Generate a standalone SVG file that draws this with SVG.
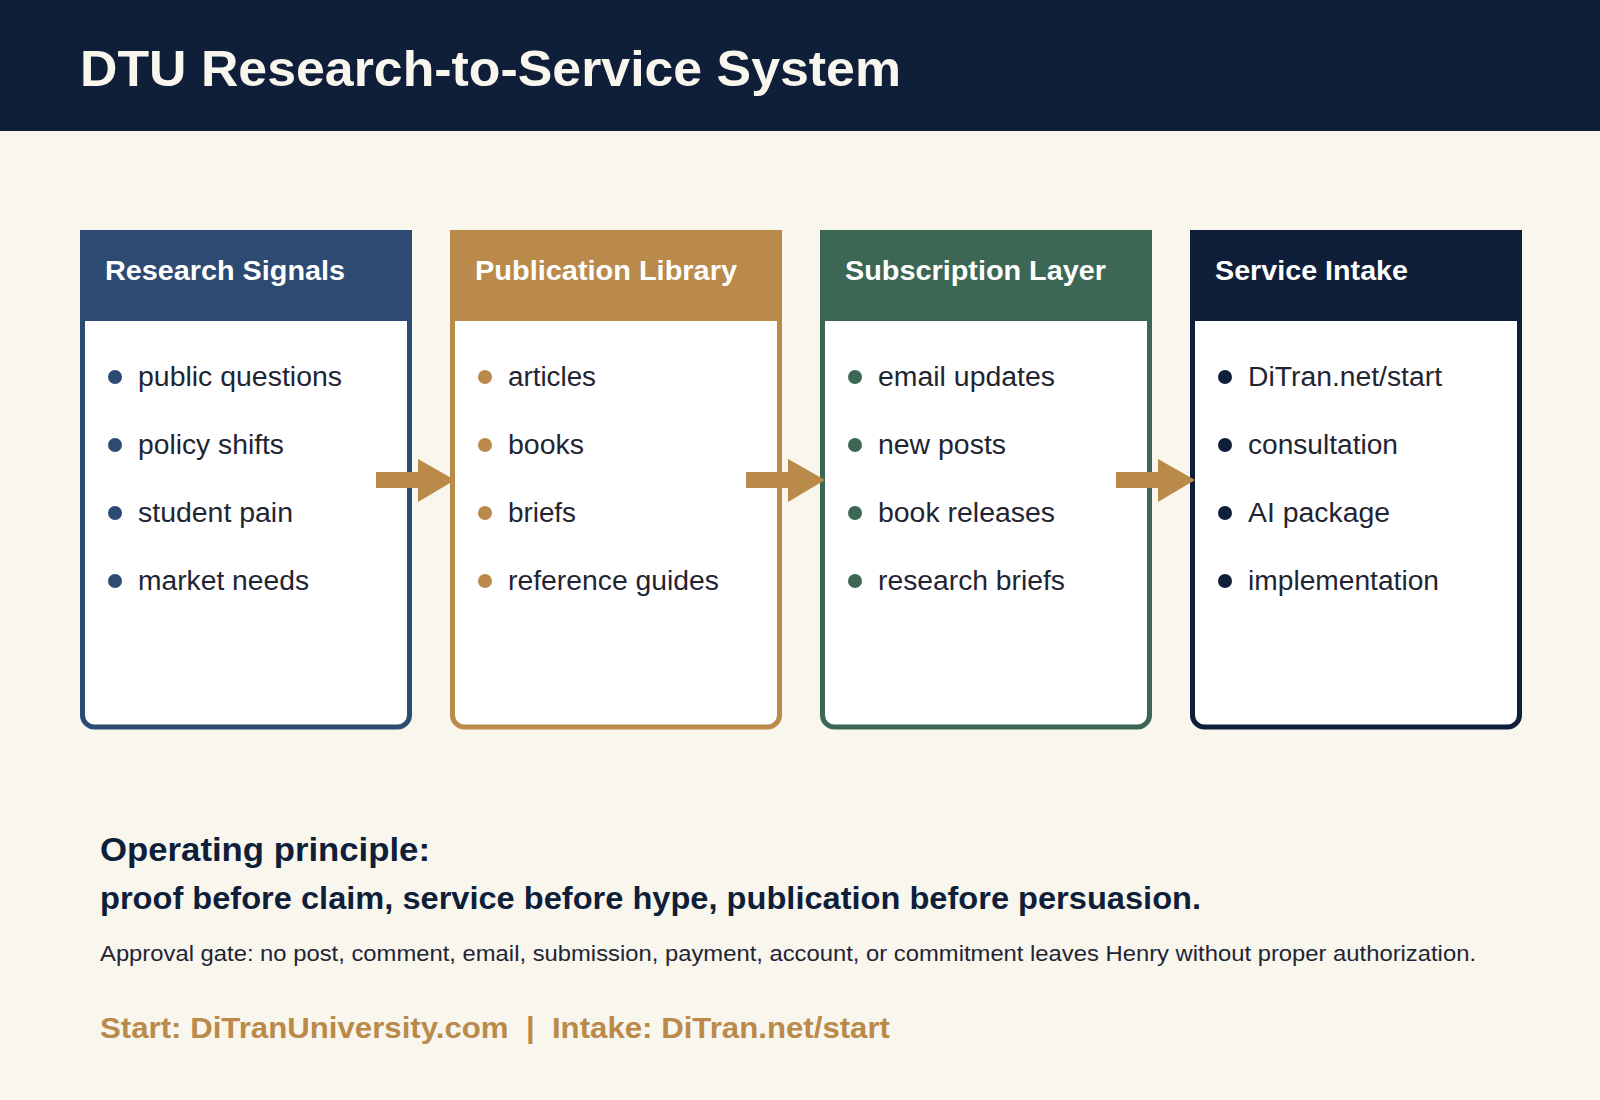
<svg xmlns="http://www.w3.org/2000/svg" width="1600" height="1100" viewBox="0 0 1600 1100">
<defs>
<style>
text{font-family:"Liberation Sans",Arial,sans-serif}
.hd{font-size:28px;font-weight:bold;fill:#fff}
.it{font-size:27px;fill:#1f2533}
.card{fill:#fff;stroke-width:5}
</style>
</defs>
<rect width="1600" height="1100" fill="#f9f6ee"/>
<rect width="1600" height="131" fill="#0f1f3a"/>
<text x="80" y="86" font-size="50" font-weight="bold" fill="#f9f6ee" textLength="821" lengthAdjust="spacingAndGlyphs">DTU Research-to-Service System</text>
<g id="n1">
<path class="card" stroke="#2c4a72" d="M82.5,232.5 H409.5 V715 a12,12 0 0 1 -12,12 H94.5 a12,12 0 0 1 -12,-12 Z"/>
<rect x="80" y="230" width="332" height="91" fill="#2c4a72"/>
<text class="hd" x="105" y="280" textLength="240" lengthAdjust="spacingAndGlyphs">Research Signals</text>
<g fill="#2c4a72"><circle cx="115" cy="377" r="7"/><circle cx="115" cy="445" r="7"/><circle cx="115" cy="513" r="7"/><circle cx="115" cy="581" r="7"/></g>
<text class="it" x="138" y="386" textLength="204" lengthAdjust="spacingAndGlyphs">public questions</text><text class="it" x="138" y="454" textLength="146" lengthAdjust="spacingAndGlyphs">policy shifts</text><text class="it" x="138" y="522" textLength="155" lengthAdjust="spacingAndGlyphs">student pain</text><text class="it" x="138" y="590" textLength="171" lengthAdjust="spacingAndGlyphs">market needs</text>
</g>
<g id="n2">
<path class="card" stroke="#b98a4a" d="M452.5,232.5 H779.5 V715 a12,12 0 0 1 -12,12 H464.5 a12,12 0 0 1 -12,-12 Z"/>
<rect x="450" y="230" width="332" height="91" fill="#b98a4a"/>
<text class="hd" x="475" y="280" textLength="262" lengthAdjust="spacingAndGlyphs">Publication Library</text>
<g fill="#b98a4a"><circle cx="485" cy="377" r="7"/><circle cx="485" cy="445" r="7"/><circle cx="485" cy="513" r="7"/><circle cx="485" cy="581" r="7"/></g>
<text class="it" x="508" y="386" textLength="88" lengthAdjust="spacingAndGlyphs">articles</text><text class="it" x="508" y="454" textLength="76" lengthAdjust="spacingAndGlyphs">books</text><text class="it" x="508" y="522" textLength="68" lengthAdjust="spacingAndGlyphs">briefs</text><text class="it" x="508" y="590" textLength="211" lengthAdjust="spacingAndGlyphs">reference guides</text>
</g>
<g id="n3">
<path class="card" stroke="#3d6755" d="M822.5,232.5 H1149.5 V715 a12,12 0 0 1 -12,12 H834.5 a12,12 0 0 1 -12,-12 Z"/>
<rect x="820" y="230" width="332" height="91" fill="#3d6755"/>
<text class="hd" x="845" y="280" textLength="261" lengthAdjust="spacingAndGlyphs">Subscription Layer</text>
<g fill="#3d6755"><circle cx="855" cy="377" r="7"/><circle cx="855" cy="445" r="7"/><circle cx="855" cy="513" r="7"/><circle cx="855" cy="581" r="7"/></g>
<text class="it" x="878" y="386" textLength="177" lengthAdjust="spacingAndGlyphs">email updates</text><text class="it" x="878" y="454" textLength="128" lengthAdjust="spacingAndGlyphs">new posts</text><text class="it" x="878" y="522" textLength="177" lengthAdjust="spacingAndGlyphs">book releases</text><text class="it" x="878" y="590" textLength="187" lengthAdjust="spacingAndGlyphs">research briefs</text>
</g>
<g id="n4">
<path class="card" stroke="#0f1f3a" d="M1192.5,232.5 H1519.5 V715 a12,12 0 0 1 -12,12 H1204.5 a12,12 0 0 1 -12,-12 Z"/>
<rect x="1190" y="230" width="332" height="91" fill="#0f1f3a"/>
<text class="hd" x="1215" y="280" textLength="193" lengthAdjust="spacingAndGlyphs">Service Intake</text>
<g fill="#0f1f3a"><circle cx="1225" cy="377" r="7"/><circle cx="1225" cy="445" r="7"/><circle cx="1225" cy="513" r="7"/><circle cx="1225" cy="581" r="7"/></g>
<text class="it" x="1248" y="386" textLength="194" lengthAdjust="spacingAndGlyphs">DiTran.net/start</text><text class="it" x="1248" y="454" textLength="150" lengthAdjust="spacingAndGlyphs">consultation</text><text class="it" x="1248" y="522" textLength="142" lengthAdjust="spacingAndGlyphs">AI package</text><text class="it" x="1248" y="590" textLength="191" lengthAdjust="spacingAndGlyphs">implementation</text>
</g>
<g id="connectors" fill="#b98a4a">
<polygon points="376,472 418,472 418,459 455,480 418,502 418,488 376,488"/>
<polygon points="746,472 788,472 788,459 825,480 788,502 788,488 746,488"/>
<polygon points="1116,472 1158,472 1158,459 1195,480 1158,502 1158,488 1116,488"/>
</g>
<text x="100" y="861" font-size="33" font-weight="bold" fill="#0f1f3a" textLength="330" lengthAdjust="spacingAndGlyphs">Operating principle:</text>
<text x="100" y="909" font-size="32" font-weight="bold" fill="#0f1f3a" textLength="1101" lengthAdjust="spacingAndGlyphs">proof before claim, service before hype, publication before persuasion.</text>
<text x="100" y="961" font-size="22.5" fill="#1f2533" textLength="1376" lengthAdjust="spacingAndGlyphs">Approval gate: no post, comment, email, submission, payment, account, or commitment leaves Henry without proper authorization.</text>
<text x="100" y="1038" font-size="29" font-weight="bold" fill="#b98a4a" xml:space="preserve" textLength="790" lengthAdjust="spacingAndGlyphs">Start: DiTranUniversity.com  |  Intake: DiTran.net/start</text>
</svg>
